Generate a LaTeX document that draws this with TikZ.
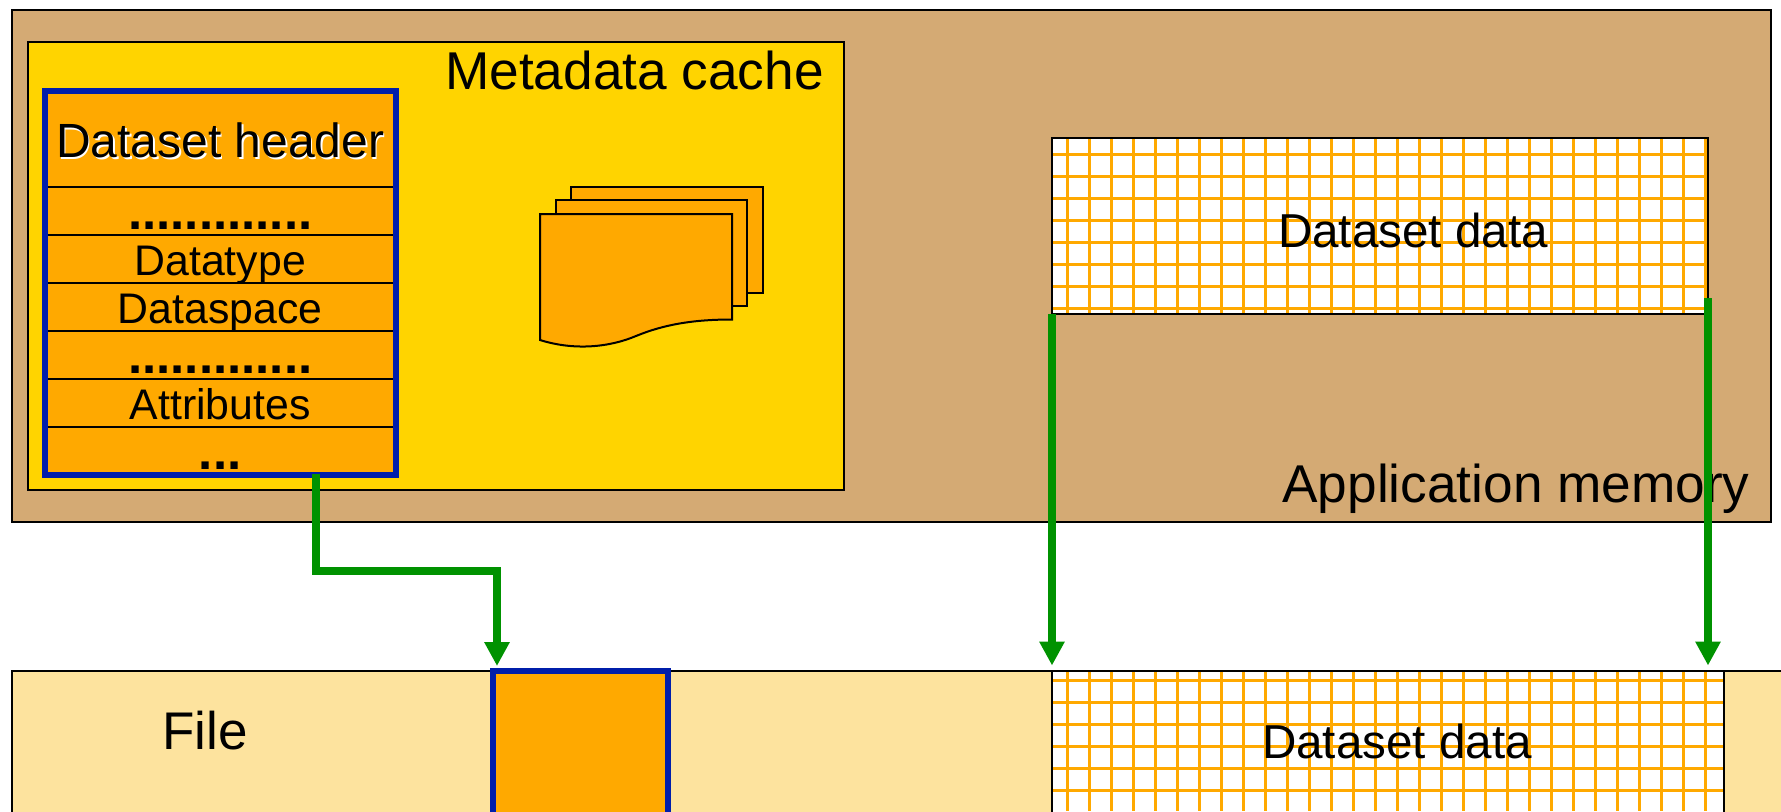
\documentclass[tikz,border=0pt]{standalone}
\usepackage{fontspec}
\setmainfont{Liberation Sans}
\usetikzlibrary{arrows.meta,fit}
\definecolor{memtan}{RGB}{212,170,116}
\definecolor{cacheyellow}{RGB}{255,212,0}
\definecolor{cellorange}{RGB}{255,169,0}
\definecolor{filecream}{RGB}{253,227,158}
\definecolor{frameblue}{RGB}{0,30,170}
\definecolor{linkgreen}{RGB}{0,146,0}
\newcommand{\shadowed}[1]{\makebox[0pt][l]{\hspace{0.8pt}\raisebox{-0.8pt}{\color{white}#1}}#1}
\tikzset{node distance=24pt,auto}
\tikzset{
  box/.style={draw=black,line width=1pt,inner sep=0pt,outer sep=0pt,anchor=north west},
  row/.style={box,fill=cellorange,anchor=center,minimum width=175.75pt,minimum height=24pt,
    text height=20.5pt,text depth=3.5pt,font=\fontsize{21.4}{25}\selectfont},
  dotrow/.style={row,text height=21.5pt,text depth=2.5pt,font=\fontsize{25.5}{30}\bfseries\selectfont},
  frame/.style={draw=frameblue,line width=3pt,inner sep=0pt,outer sep=0pt},
  sheet/.style={draw=black,line width=1pt,fill=cellorange},
  gridline/.style={draw=cellorange,line width=1.25pt},
  label/.style={anchor=base,inner sep=0pt},
  link/.style={draw=linkgreen,line width=4pt,-{Triangle[length=12pt,width=12pt]}}
}

\begin{document}
\begin{tikzpicture}[x=0.5pt,y=-0.5pt]
          \path[use as bounding box,clip] (0,0) rectangle (1781,811);

          \node (filebar) [box,fill=filecream,minimum width=900pt,minimum height=90pt] at (12,670.5) {};
          \node (fileblock) [box,frame,fill=cellorange,minimum width=87.5pt,minimum height=90pt] at (493,670.5) {};
          \node (filedata) [box,fill=white,minimum width=336pt,minimum height=90pt] at (1052,670.5) {};

          \node (memory) [box,fill=memtan,minimum width=879.5pt,minimum height=256pt] at (12,10) {};
          \node (cache) [box,fill=cacheyellow,minimum width=408pt,minimum height=224pt] at (28,42) {};

          \node (hdr) [row,minimum height=48pt,text height=33.5pt,text depth=14.5pt,font=\fontsize{24}{28}\selectfont] at (220.25,138.5) {\shadowed{Dataset header}};
          \node (gap1) [dotrow,below of=hdr,node distance=36pt] {.............};
          \node (dtype) [row,below of=gap1] {Datatype};
          \node (dspace) [row,below of=dtype] {Dataspace};
          \node (gap2) [dotrow,below of=dspace] {.............};
          \node (attrs) [row,below of=gap2] {Attributes};
          \node (rest) [dotrow,below of=attrs] {...};
          \node (header) [frame,fit=(hdr)(rest)] {};

          \draw[sheet] (570.5,187) rectangle (763,293);
          \draw[sheet] (555.7,200) rectangle (747,306);
          \draw[sheet] (540,214) -- (732,214) -- (732,319.5) .. controls (695,319.5) and (665,324) .. (636,336)
            .. controls (610,347) and (575,351) .. (540,340) -- cycle;

          \node (memdata) [box,fill=white,minimum width=328pt,minimum height=88pt] at (1052,137.7) {};
          \foreach \gx in {1067.6,1089.6,...,1708} {
            \draw[gridline] (\gx,137.7) -- (\gx,313.7);
            \draw[gridline] (\gx,670) -- (\gx,811);
          }
          \foreach \gy in {154.7,176.7,...,309} \draw[gridline] (1052,\gy) -- (1708,\gy);
          \foreach \gy in {680.3,702.3,...,791} \draw[gridline] (1052,\gy) -- (1724,\gy);
          \draw[line width=1pt] (memdata.north west) rectangle (memdata.south east);
          \draw[line width=1pt] (filedata.south west) rectangle (filedata.north east);

          \node (cachename) [label,font=\fontsize{26.6}{30}\selectfont] at (634.5,89) {Metadata cache};
          \node (memname) [label,font=\fontsize{26.6}{30}\selectfont] at (1516,502.5) {Application memory};
          \node (filename) [label,font=\fontsize{26.5}{30}\selectfont] at (205,749.5) {File};
          \node (memdataname) [label,font=\fontsize{23.8}{28}\selectfont] at (1413,247) {Dataset data};
          \node (filedataname) [label,font=\fontsize{23.8}{28}\selectfont] at (1397,758.5) {Dataset data};

          \draw[link] ([xshift=48pt,yshift=0.5pt]header.south) -- ++(0,97) -| ([xshift=2pt,yshift=2.25pt]fileblock.north west);
          \draw[link,shorten >=2.5pt] (memdata.south west) -- (filedata.north west);
          \draw[link,shorten <=-7.85pt,shorten >=2.5pt] (memdata.south east) -- (memdata.south east |- filedata.north);
        \end{tikzpicture}
\end{document}
